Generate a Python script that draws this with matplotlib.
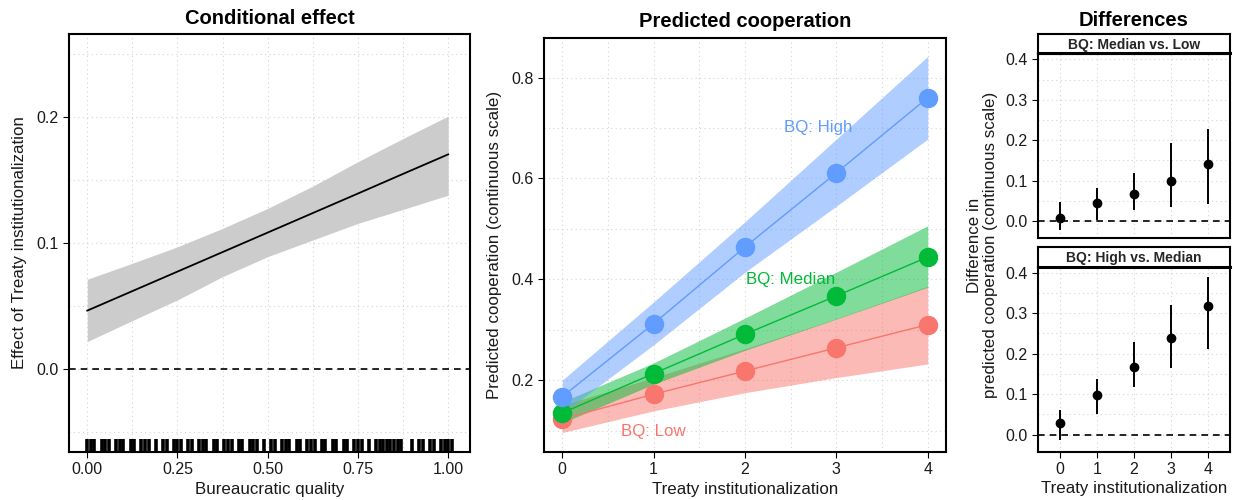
import matplotlib
matplotlib.use("Agg")
import matplotlib.pyplot as plt
import matplotlib.transforms as mtransforms

plt.rcParams["font.family"] = ["Liberation Sans", "DejaVu Sans"]

TEXT_COLOR = "#1A1A1A"
GRID_COLOR = "#D4D4D4"
LOW_COLOR = "#F8766D"
MED_COLOR = "#00BA38"
HIGH_COLOR = "#619CFF"

# --- left panel: conditional effect ---
bq_grid = [0.0, 0.125, 0.25, 0.375, 0.5, 0.625, 0.75, 0.875, 1.0]
effect = [0.0463, 0.0618, 0.0773, 0.0928, 0.1083, 0.1238, 0.1393, 0.1549, 0.1704]
effect_upper = [0.0712, 0.0839, 0.0970, 0.1116, 0.1275, 0.1452, 0.1646, 0.1830, 0.2008]
effect_lower = [0.0217, 0.0384, 0.0548, 0.0733, 0.0892, 0.1024, 0.1156, 0.1267, 0.1380]

rug_quality = [0.00, 0.01, 0.02, 0.04, 0.05, 0.06, 0.08, 0.09, 0.10, 0.12, 0.13,
               0.15, 0.16, 0.17, 0.19, 0.21, 0.22, 0.24, 0.25, 0.26, 0.28, 0.29,
               0.31, 0.32, 0.33, 0.35, 0.36, 0.38, 0.39, 0.40, 0.42, 0.43, 0.45,
               0.46, 0.47, 0.49, 0.51, 0.52, 0.54, 0.55, 0.56, 0.58, 0.59, 0.61,
               0.62, 0.63, 0.65, 0.66, 0.68, 0.69, 0.71, 0.72, 0.74, 0.75, 0.76,
               0.78, 0.80, 0.81, 0.82, 0.83, 0.84, 0.85, 0.86, 0.87, 0.90, 0.92,
               0.93, 0.95, 0.96, 0.98, 0.99, 1.00, 1.01]

# --- middle panel: predicted cooperation ---
treaty = [0, 1, 2, 3, 4]
pred_low = [0.123, 0.172, 0.218, 0.264, 0.310]
pred_low_upper = [0.150, 0.205, 0.262, 0.322, 0.386]
pred_low_lower = [0.096, 0.139, 0.175, 0.205, 0.232]
pred_med = [0.135, 0.213, 0.291, 0.367, 0.444]
pred_med_upper = [0.157, 0.234, 0.323, 0.414, 0.506]
pred_med_lower = [0.115, 0.192, 0.259, 0.321, 0.384]
pred_high = [0.167, 0.312, 0.464, 0.611, 0.760]
pred_high_upper = [0.200, 0.355, 0.514, 0.678, 0.842]
pred_high_lower = [0.134, 0.270, 0.414, 0.545, 0.678]

# --- right panel: differences ---
diff_med_low = [0.008, 0.044, 0.068, 0.100, 0.141]
diff_med_low_upper = [0.048, 0.081, 0.119, 0.194, 0.228]
diff_med_low_lower = [-0.022, 0.003, 0.027, 0.035, 0.042]
diff_high_med = [0.029, 0.099, 0.166, 0.239, 0.318]
diff_high_med_upper = [0.060, 0.137, 0.228, 0.321, 0.390]
diff_high_med_lower = [-0.014, 0.050, 0.117, 0.164, 0.212]


def style_axes(ax):
    ax.set_facecolor("white")
    ax.grid(which="both", linestyle=(0, (1, 3)), linewidth=0.8, color=GRID_COLOR)
    ax.set_axisbelow(True)
    for spine in ax.spines.values():
        spine.set_linewidth(1.5)
        spine.set_color("black")
    ax.tick_params(which="major", length=4, width=0.8, colors="black",
                   labelcolor=TEXT_COLOR, labelsize=11.5)
    ax.tick_params(which="minor", length=0)


fig = plt.figure(figsize=(12.35, 5.0), dpi=100)
fig.set_facecolor("white")

# left
ax1 = fig.add_axes([0.0559, 0.096, 0.3247, 0.836])
style_axes(ax1)
ax1.fill_between(bq_grid, effect_lower, effect_upper, color="#CCCCCC", linewidth=0)
ax1.plot(bq_grid, effect, color="black", linewidth=1.3)
ax1.axhline(0, color="black", linestyle=(0, (4, 3)), linewidth=1.2)
rug_trans = mtransforms.blended_transform_factory(ax1.transData, ax1.transAxes)
for q in rug_quality:
    ax1.plot([q, q], [0, 0.03], color="black", linewidth=2.6, transform=rug_trans,
             solid_capstyle="butt")
ax1.set_xlim(-0.0505, 1.0605)
ax1.set_ylim(-0.066, 0.266)
ax1.set_xticks([0, 0.25, 0.5, 0.75, 1.0])
ax1.set_xticklabels(["0.00", "0.25", "0.50", "0.75", "1.00"])
ax1.set_xticks([0.125, 0.375, 0.625, 0.875], minor=True)
ax1.set_yticks([0.0, 0.1, 0.2])
ax1.set_yticklabels(["0.0", "0.1", "0.2"])
ax1.set_yticks([-0.05, 0.05, 0.15, 0.25], minor=True)
ax1.set_xlabel("Bureaucratic quality", fontsize=12.2, color=TEXT_COLOR, labelpad=3)
ax1.set_ylabel("Effect of Treaty institutionalization", fontsize=12.2, color=TEXT_COLOR,
               labelpad=7)
ax1.set_title("Conditional effect", fontsize=14.5, weight="bold", pad=7)

# middle
ax2 = fig.add_axes([0.4405, 0.096, 0.3255, 0.8286])
style_axes(ax2)
series = [
    (pred_low, pred_low_lower, pred_low_upper, LOW_COLOR),
    (pred_med, pred_med_lower, pred_med_upper, MED_COLOR),
    (pred_high, pred_high_lower, pred_high_upper, HIGH_COLOR),
]
for mid, lo, hi, col in series:
    ax2.fill_between(treaty, lo, hi, color=col, alpha=0.5, linewidth=0)
for mid, lo, hi, col in series:
    ax2.plot(treaty, mid, color=col, linewidth=1.0, marker="o", markersize=13)
ax2.text(2.8, 0.70, "BQ: High", color=HIGH_COLOR, fontsize=12.2, ha="center", va="center")
ax2.text(2.5, 0.40, "BQ: Median", color=MED_COLOR, fontsize=12.2, ha="center", va="center")
ax2.text(1.0, 0.098, "BQ: Low", color=LOW_COLOR, fontsize=12.2, ha="center", va="center")
ax2.set_xlim(-0.2, 4.2)
ax2.set_ylim(0.0574, 0.879)
ax2.set_xticks(treaty)
ax2.set_xticks([0.5, 1.5, 2.5, 3.5], minor=True)
ax2.set_yticks([0.2, 0.4, 0.6, 0.8])
ax2.set_yticks([0.1, 0.3, 0.5, 0.7], minor=True)
ax2.set_xlabel("Treaty institutionalization", fontsize=12.2, color=TEXT_COLOR, labelpad=3)
ax2.set_ylabel("Predicted cooperation (continuous scale)", fontsize=12.2, color=TEXT_COLOR,
               labelpad=7)
ax2.set_title("Predicted cooperation", fontsize=14.5, weight="bold", pad=8)

# right: two facets with strips
facets = [
    ("BQ: Median vs. Low", diff_med_low, diff_med_low_lower, diff_med_low_upper,
     [0.8405, 0.524, 0.1555, 0.369], [0.8405, 0.8934, 0.1555, 0.0386]),
    ("BQ: High vs. Median", diff_high_med, diff_high_med_lower, diff_high_med_upper,
     [0.8405, 0.0966, 0.1555, 0.370], [0.8405, 0.4666, 0.1555, 0.0388]),
]
for i, (label, est, lo, hi, pos, strip_pos) in enumerate(facets):
    ax = fig.add_axes(pos)
    style_axes(ax)
    ax.axhline(0, color="black", linestyle=(0, (4, 3)), linewidth=1.2)
    ax.vlines(treaty, lo, hi, color="black", linewidth=1.4)
    ax.plot(treaty, est, "o", color="black", markersize=6)
    ax.set_xlim(-0.6, 4.6)
    ax.set_ylim(-0.042, 0.4147)
    ax.set_xticks(treaty)
    ax.set_yticks([0.0, 0.1, 0.2, 0.3, 0.4])
    ax.set_yticks([0.05, 0.15, 0.25, 0.35], minor=True)
    ax.grid(which="minor", axis="x", visible=False)
    if i == 0:
        ax.tick_params(axis="x", which="major", length=0, labelbottom=False)
    else:
        ax.set_xlabel("Treaty institutionalization", fontsize=12.2, color=TEXT_COLOR,
                      labelpad=3)

    sax = fig.add_axes(strip_pos)
    sax.set_xticks([])
    sax.set_yticks([])
    sax.set_facecolor("white")
    for spine in sax.spines.values():
        spine.set_linewidth(1.5)
    sax.spines["bottom"].set_linewidth(2.2)
    sax.text(0.5, 0.45, label, transform=sax.transAxes, ha="center", va="center",
             fontsize=10, weight="bold", color="#262626")
    if i == 0:
        sax.set_title("Differences", fontsize=14.5, weight="bold", pad=6)

fig.text(0.7955, 0.51, "Difference in\npredicted cooperation (continuous scale)",
         rotation=90, ha="center", va="center", fontsize=12.2, color=TEXT_COLOR,
         linespacing=1.05)

fig.savefig("out.png", dpi=100)
